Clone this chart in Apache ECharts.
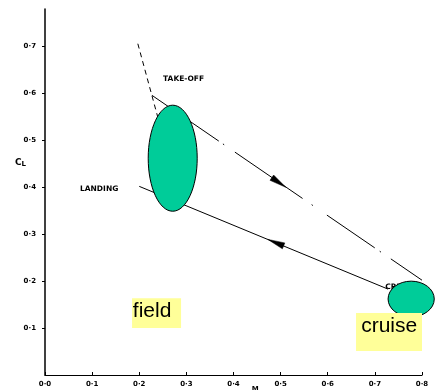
<!DOCTYPE html>
<html>
<head>
<meta charset="utf-8">
<script src="https://cdn.jsdelivr.net/npm/echarts@6/dist/echarts.min.js"></script>
<style>
html,body{margin:0;padding:0;background:#fff;}
#chart{width:435px;height:390px;}
</style>
</head>
<body>
<div id="chart"></div>
<script>
// ---- data ----
const mTicks = [0, 0.1, 0.2, 0.3, 0.4, 0.5, 0.6, 0.7, 0.8];
const mTickLabels = ['0·0', '0·1', '0·2', '0·3', '0·4', '0·5', '0·6', '0·7', '0·8'];
const clTicks = [0.1, 0.2, 0.3, 0.4, 0.5, 0.6, 0.7];
const clTickLabels = ['0·1', '0·2', '0·3', '0·4', '0·5', '0·6', '0·7'];

const takeoffM = [0.227, 0.800];
const takeoffCL = [0.596, 0.202];
const landingM = [0.200, 0.728];
const landingCL = [0.402, 0.183];
const rotationM = [0.197, 0.240];
const rotationCL = [0.706, 0.547];

const arrowTipM = [0.511, 0.473];
const arrowTipCL = [0.400, 0.289];
const arrowFromM = [0.227, 0.728];
const arrowFromCL = [0.596, 0.183];

const regionNames = ['field', 'cruise'];
const regionM = [0.271, 0.777];
const regionCL = [0.462, 0.162];
const regionHalfM = [0.052, 0.049];
const regionHalfCL = [0.113, 0.038];

const phaseLabels = ['TAKE-OFF', 'LANDING', 'CRUISE'];
const phaseLabelM = [0.2505, 0.0743, 0.722];
const phaseLabelCL = [0.630, 0.396, 0.187];

// yellow note boxes: [mLeft, mRight, clTop, clBottom, textM, textCL]
const noteTexts = ['field', 'cruise'];
const noteBoxes = [
  [0.1847, 0.2887, 0.1638, 0.100, 0.2272, 0.137],
  [0.660, 0.800, 0.132, 0.051, 0.7304, 0.103]
];

const xAxisName = 'M';
const yAxisName = 'C';
const yAxisSub = 'L';

// ---- chart ----
const chart = echarts.init(document.getElementById('chart'), null, {renderer: 'canvas'});
const tickFont = {fontSize: 7, fontWeight: 'bold', color: '#000', fontFamily: 'DejaVu Sans'};

function pairs(a, b) { return a.map((v, i) => [v, b[i]]); }

const option = {
  animation: false,
  backgroundColor: '#fff',
  grid: {left: 45, right: 13, top: 9, bottom: 15},
  xAxis: {
    type: 'value', min: 0, max: 0.8, interval: 0.1,
    splitLine: {show: false},
    axisLine: {lineStyle: {color: '#000', width: 1.2}},
    axisTick: {inside: true, length: 3, lineStyle: {color: '#000', width: 1}},
    axisLabel: Object.assign({margin: 6, formatter: v => mTickLabels[Math.round(v * 10)] || ''}, tickFont)
  },
  yAxis: {
    type: 'value', min: 0, max: 0.78,
    splitLine: {show: false},
    axisLine: {lineStyle: {color: '#000', width: 1.5}},
    axisTick: {inside: false, length: 3, customValues: clTicks, lineStyle: {color: '#000', width: 1}},
    axisLabel: Object.assign({margin: 9, customValues: clTicks,
      formatter: v => { const i = clTicks.findIndex(t => Math.abs(t - v) < 1e-6); return i >= 0 ? clTickLabels[i] : ''; }}, tickFont)
  },
  series: [
    {
      name: 'rotation', type: 'line', data: pairs(rotationM, rotationCL), symbol: 'none', z: 2,
      lineStyle: {color: '#000', width: 1, type: [5, 4]}
    },
    {
      name: 'take-off', type: 'line', data: pairs(takeoffM, takeoffCL), symbol: 'none', z: 2,
      lineStyle: {color: '#000', width: 1, type: [81, 5, 1.5, 13, 82, 11, 1.5, 17, 58, 6, 1.5, 12, 60, 10]}
    },
    {
      name: 'landing', type: 'line', data: pairs(landingM, landingCL), symbol: 'none', z: 2,
      lineStyle: {color: '#000', width: 1}
    },
    {
      name: 'arrows', type: 'custom', z: 3,
      data: arrowTipM.map((m, i) => [m, arrowTipCL[i], arrowFromM[i], arrowFromCL[i]]),
      renderItem: function (params, api) {
        const tip = api.coord([api.value(0), api.value(1)]);
        const from = api.coord([api.value(2), api.value(3)]);
        let dx = tip[0] - from[0], dy = tip[1] - from[1];
        const len = Math.sqrt(dx * dx + dy * dy); dx /= len; dy /= len;
        const L = 17, W = 3.2;
        const bx = tip[0] - dx * L, by = tip[1] - dy * L;
        return {
          type: 'polygon',
          shape: {points: [tip, [bx - dy * W, by + dx * W], [bx + dy * W, by - dx * W]]},
          style: {fill: '#000', stroke: '#000', lineWidth: 0.5}
        };
      }
    },
    {
      name: 'phase labels', type: 'custom', z: 2,
      data: phaseLabels.map((t, i) => [phaseLabelM[i], phaseLabelCL[i], i]),
      renderItem: function (params, api) {
        const p = api.coord([api.value(0), api.value(1)]);
        return {
          type: 'text', x: p[0], y: p[1],
          style: {text: phaseLabels[api.value(2)], fill: '#000', fontSize: 7.5, fontWeight: 'bold',
            fontFamily: 'DejaVu Sans', align: 'left', verticalAlign: 'middle'}
        };
      }
    },
    {
      name: 'regions', type: 'custom', z: 5,
      data: regionNames.map((n, i) => [regionM[i], regionCL[i], regionHalfM[i], regionHalfCL[i]]),
      renderItem: function (params, api) {
        const c = api.coord([api.value(0), api.value(1)]);
        const s = api.size([api.value(2), api.value(3)]);
        return {
          type: 'ellipse',
          shape: {cx: c[0], cy: c[1], rx: s[0], ry: s[1]},
          style: {fill: '#00CC99', stroke: '#000', lineWidth: 1}
        };
      }
    },
    {
      name: 'notes', type: 'custom', z: 6,
      data: noteBoxes.map((b, i) => b.concat([i])),
      renderItem: function (params, api) {
        const tl = api.coord([api.value(0), api.value(2)]);
        const br = api.coord([api.value(1), api.value(3)]);
        const tp = api.coord([api.value(4), api.value(5)]);
        return {
          type: 'group',
          children: [
            {type: 'rect', shape: {x: tl[0], y: tl[1], width: br[0] - tl[0], height: br[1] - tl[1]},
              style: {fill: '#FFFF99'}},
            {type: 'text', x: tp[0], y: tp[1],
              style: {text: noteTexts[api.value(6)], fill: '#000', fontSize: 21,
                fontFamily: 'Liberation Sans', align: 'center', verticalAlign: 'middle'}}
          ]
        };
      }
    },
    {
      name: 'axis names', type: 'custom', z: 6,
      data: [[-0.0637, 0.453, 0], [0.446, -0.0234, 1]],
      renderItem: function (params, api) {
        const p = api.coord([api.value(0), api.value(1)]);
        if (api.value(2) === 0) {
          return {
            type: 'text', x: p[0], y: p[1],
            style: {text: '{c|' + yAxisName + '}{l|' + yAxisSub + '}', align: 'left', verticalAlign: 'middle',
              rich: {c: {fontSize: 9, fontWeight: 'bold', fontFamily: 'DejaVu Sans', fill: '#000', color: '#000'},
                     l: {fontSize: 7, fontWeight: 'bold', fontFamily: 'DejaVu Sans', fill: '#000', color: '#000', padding: [4, 0, 0, 0]}}}
          };
        }
        return {
          type: 'text', x: p[0], y: p[1],
          style: {text: xAxisName, fill: '#000', fontSize: 7, fontWeight: 'bold', fontFamily: 'DejaVu Sans',
            align: 'center', verticalAlign: 'top'}
        };
      }
    }
  ]
};
chart.setOption(option);
</script>
</body>
</html>
